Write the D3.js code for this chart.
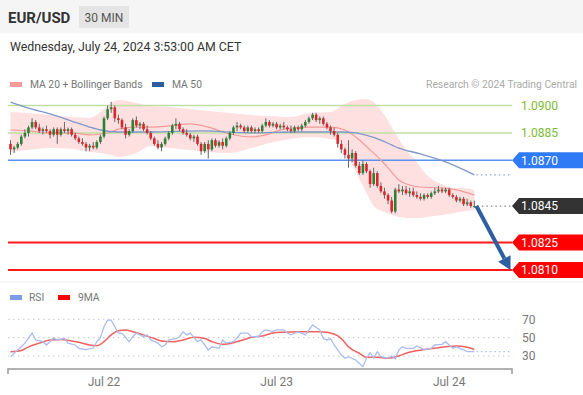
<!DOCTYPE html>
<html><head><meta charset="utf-8">
<script src="https://cdn.jsdelivr.net/npm/d3@7"></script>
<style>
body{margin:0;background:#fff;}
svg{display:block;font-family:Roboto,"Liberation Sans",Arial,sans-serif;}
</style>
</head><body>
<svg id="c" width="583" height="395"></svg>
<script>
// ---------- DATA ----------
const symbol = "EUR/USD";
const timeframe = "30 MIN";
const dateText = "Wednesday, July 24, 2024 3:53:00 AM CET";
const copyright = "Research \u00a9 2024 Trading Central";

const opens = [
1.0879,1.0876,1.0877,1.0879,1.0883,1.0885,1.0888,1.0891,1.0888,1.0886,
1.0887,1.0886,1.0884,1.0887,1.0884,1.0887,1.0886,1.0887,1.0884,1.0882,
1.0880,1.0879,1.0877,1.0878,1.0877,1.0880,1.0883,1.0893,1.0898,1.0899,
1.0893,1.0892,1.0888,1.0884,1.0886,1.0892,1.0889,1.0890,1.0887,1.0885,
1.0882,1.0879,1.0877,1.0879,1.0882,1.0885,1.0889,1.0890,1.0887,1.0885,
1.0884,1.0882,1.0883,1.0879,1.0875,1.0879,1.0876,1.0881,1.0878,1.0880,
1.0878,1.0882,1.0885,1.0888,1.0889,1.0888,1.0886,1.0888,1.0886,1.0887,
1.0886,1.0889,1.0891,1.0889,1.0890,1.0888,1.0889,1.0888,1.0887,1.0886,
1.0888,1.0887,1.0889,1.0891,1.0893,1.0895,1.0892,1.0893,1.0890,1.0888,
1.0886,1.0884,1.0879,1.0876,1.0873,1.0871,1.0874,1.0867,1.0863,1.0868,
1.0864,1.0857,1.0863,1.0856,1.0853,1.0851,1.0848,1.0842,1.0854,1.0853,
1.0854,1.0852,1.0853,1.0851,1.0850,1.0849,1.0851,1.0850,1.0852,1.0853,
1.0854,1.0853,1.0854,1.0851,1.0850,1.0848,1.0849,1.0846,1.0847,1.0845];
const highs = [
1.0881,1.0878,1.0880,1.0884,1.0887,1.0889,1.0893,1.0892,1.0890,1.0888,
1.0889,1.0887,1.0888,1.0888,1.0888,1.0891,1.0888,1.0888,1.0885,1.0883,
1.0882,1.0880,1.0879,1.0880,1.0881,1.0884,1.0894,1.0900,1.0902,1.0900,
1.0895,1.0893,1.0890,1.0887,1.0893,1.0894,1.0891,1.0891,1.0889,1.0886,
1.0883,1.0881,1.0880,1.0883,1.0886,1.0890,1.0893,1.0891,1.0888,1.0887,
1.0885,1.0884,1.0884,1.0880,1.0880,1.0881,1.0882,1.0882,1.0881,1.0882,
1.0883,1.0886,1.0889,1.0891,1.0890,1.0889,1.0889,1.0889,1.0888,1.0888,
1.0890,1.0893,1.0892,1.0891,1.0891,1.0890,1.0891,1.0889,1.0889,1.0889,
1.0889,1.0890,1.0892,1.0894,1.0896,1.0896,1.0894,1.0894,1.0891,1.0889,
1.0888,1.0885,1.0881,1.0877,1.0881,1.0876,1.0875,1.0869,1.0870,1.0869,
1.0865,1.0866,1.0864,1.0858,1.0855,1.0852,1.0850,1.0855,1.0857,1.0856,
1.0856,1.0855,1.0855,1.0853,1.0852,1.0852,1.0852,1.0853,1.0855,1.0856,
1.0855,1.0855,1.0855,1.0852,1.0851,1.0850,1.0850,1.0849,1.0848,1.0848];
const lows = [
1.0873,1.0874,1.0876,1.0878,1.0882,1.0883,1.0887,1.0887,1.0885,1.0884,
1.0885,1.0882,1.0883,1.0879,1.0883,1.0885,1.0884,1.0883,1.0881,1.0879,
1.0878,1.0875,1.0875,1.0876,1.0876,1.0879,1.0882,1.0892,1.0896,1.0891,
1.0890,1.0887,1.0882,1.0883,1.0885,1.0888,1.0887,1.0886,1.0884,1.0881,
1.0878,1.0876,1.0875,1.0878,1.0881,1.0884,1.0887,1.0886,1.0884,1.0883,
1.0881,1.0880,1.0878,1.0873,1.0874,1.0871,1.0875,1.0877,1.0877,1.0876,
1.0877,1.0881,1.0884,1.0886,1.0887,1.0885,1.0885,1.0885,1.0885,1.0885,
1.0885,1.0888,1.0888,1.0888,1.0887,1.0887,1.0887,1.0886,1.0885,1.0885,
1.0886,1.0886,1.0888,1.0890,1.0892,1.0891,1.0890,1.0889,1.0887,1.0884,
1.0883,1.0877,1.0874,1.0871,1.0866,1.0869,1.0866,1.0862,1.0862,1.0863,
1.0855,1.0856,1.0855,1.0852,1.0849,1.0846,1.0841,1.0841,1.0852,1.0851,
1.0851,1.0850,1.0850,1.0849,1.0848,1.0848,1.0849,1.0849,1.0851,1.0852,
1.0852,1.0852,1.0850,1.0849,1.0847,1.0847,1.0845,1.0845,1.0844,1.0844];
const closes = [
1.0876,1.0877,1.0879,1.0883,1.0885,1.0888,1.0891,1.0888,1.0886,1.0887,
1.0886,1.0884,1.0887,1.0884,1.0887,1.0886,1.0887,1.0884,1.0882,1.0880,
1.0879,1.0877,1.0878,1.0877,1.0880,1.0883,1.0893,1.0898,1.0899,1.0893,
1.0892,1.0888,1.0884,1.0886,1.0892,1.0889,1.0890,1.0887,1.0885,1.0882,
1.0879,1.0877,1.0879,1.0882,1.0885,1.0889,1.0890,1.0887,1.0885,1.0884,
1.0882,1.0883,1.0879,1.0875,1.0879,1.0876,1.0881,1.0878,1.0880,1.0878,
1.0882,1.0885,1.0888,1.0889,1.0888,1.0886,1.0888,1.0886,1.0887,1.0886,
1.0889,1.0891,1.0889,1.0890,1.0888,1.0889,1.0888,1.0887,1.0886,1.0888,
1.0887,1.0889,1.0891,1.0893,1.0895,1.0892,1.0893,1.0890,1.0888,1.0886,
1.0884,1.0879,1.0876,1.0873,1.0871,1.0874,1.0867,1.0863,1.0868,1.0864,
1.0857,1.0863,1.0856,1.0853,1.0851,1.0848,1.0842,1.0854,1.0853,1.0854,
1.0852,1.0853,1.0851,1.0850,1.0849,1.0851,1.0850,1.0852,1.0853,1.0854,
1.0853,1.0854,1.0851,1.0850,1.0848,1.0849,1.0846,1.0847,1.0845,1.0845];

// Indicators: [candle index, value]
const bbUpper = [[0,1.08964],[5,1.08959],[11,1.08948],[17,1.08937],[22,1.08932],[25,1.08964],[28,1.09014],[30,1.09030],[35,1.09014],[39,1.08997],[44,1.08992],[50,1.08981],[55,1.08970],[61,1.08959],[67,1.08948],[72,1.08943],[78,1.08937],[83,1.08959],[89,1.08964],[93,1.09008],[96,1.09030],[99,1.09036],[101,1.09019],[104,1.08948],[107,1.08850],[110,1.08757],[113,1.08691],[115,1.08636],[118,1.08587],[121,1.08560],[124,1.08549],[126,1.08549],[129,1.08538]];
const bbLower = [[0,1.08746],[5,1.08757],[11,1.08767],[17,1.08762],[22,1.08746],[25,1.08740],[28,1.08729],[30,1.08718],[35,1.08740],[39,1.08778],[44,1.08767],[50,1.08757],[55,1.08746],[61,1.08740],[67,1.08767],[72,1.08795],[78,1.08817],[83,1.08828],[89,1.08817],[92,1.08800],[93,1.08757],[96,1.08636],[99,1.08521],[101,1.08450],[104,1.08417],[107,1.08396],[110,1.08385],[114,1.08385],[120,1.08401],[125,1.08417],[129,1.08428]];
const ma20 = [[0,1.08866],[5,1.08861],[11,1.08850],[17,1.08850],[22,1.08839],[25,1.08844],[28,1.08855],[30,1.08871],[35,1.08882],[39,1.08882],[44,1.08888],[50,1.08899],[55,1.08882],[61,1.08844],[67,1.08828],[71,1.08839],[76,1.08871],[83,1.08882],[89,1.08882],[93,1.08866],[96,1.08828],[100,1.08757],[103,1.08702],[106,1.08636],[108,1.08592],[111,1.08565],[114,1.08554],[120,1.08549],[124,1.08538],[129,1.08510]];
const ma50 = [[0,1.09019],[5,1.08986],[11,1.08954],[17,1.08915],[22,1.08882],[25,1.08866],[30,1.08855],[39,1.08855],[53,1.08861],[67,1.08850],[80,1.08855],[92,1.08855],[96,1.08850],[103,1.08811],[108,1.08767],[114,1.08735],[121,1.08691],[129,1.08620]];
const rsi = [[0,29],[1,33],[3,40],[4,44],[6,55],[7,47.5],[9,45.6],[10,42],[12,49.7],[13,47.5],[15,49],[16,44],[18,42],[19,38.4],[21,37],[23,38.7],[24,45.6],[25,49.7],[26,62],[27,69],[28,69],[29,62],[30,55],[31,55],[33,45.6],[34,51],[35,55],[37,51],[38,53],[39,47.5],[41,44],[42,40],[43,42],[44,47.5],[46,49],[47,51],[48,56.5],[49,53],[50,55],[52,45.6],[53,47.5],[55,36.6],[56,40],[58,38.4],[59,47.5],[60,44],[62,45.6],[63,49.7],[64,55],[66,55],[67,51],[69,51],[70,56.5],[71,58.4],[73,56.5],[74,58.4],[76,58.4],[77,55],[78,53],[80,56.5],[82,53],[84,64],[86,58.4],[87,49],[88,47.5],[89,49],[90,42],[92,31],[93,27.5],[94,29.3],[96,25.7],[98,18.4],[99,27.5],[100,33.7],[101,27.5],[102,34.7],[103,29.3],[105,27.5],[106,30],[107,26.8],[108,36.6],[109,40],[110,38.4],[112,38.4],[113,41],[115,37],[117,38.4],[118,42],[120,42.7],[121,45.6],[122,42],[123,38.4],[124,40],[126,36.6],[127,34.7],[129,34.7]];
const rsiMA9 = [[0,34.7],[3,36],[5,40],[8,44],[11,47.5],[14,48],[17,46.4],[19,45],[22,42],[24,41.3],[26,45.6],[28,53],[30,57.6],[32,58.4],[34,56.5],[37,53],[40,49],[42,46.4],[45,45.6],[48,47.5],[51,50.4],[54,49],[56,45.6],[59,42.7],[62,44.5],[65,48],[67,50.4],[70,51.8],[73,55],[76,56],[80,56.5],[86,56.5],[90,54],[92,49],[94,40],[97,33],[99,28.7],[102,28.7],[105,27.5],[108,30],[110,33],[113,35.8],[116,37.7],[119,39],[121,40],[124,41],[127,39.5],[129,37]];

const greenLevels = [1.0900, 1.0885];
const blueLevels = [1.0870];
const redLevels = [1.0825, 1.0810];
const lastPrice = 1.0845;
const targetPrice = 1.0810;
const rsiTicks = [70, 50, 30];
const dayTickIndex = [26, 74, 122];
const dayTickLabels = ["Jul 22", "Jul 23", "Jul 24"];

// ---------- SCALES ----------
const svg = d3.select("#c");
const W = 583;
const x = d3.scaleLinear().domain([26, 122]).range([104, 449.2]);
const y = d3.scaleLinear().domain([1.0810, 1.0900]).range([270, 105.5]);
const yr = d3.scaleLinear().domain([30, 70]).range([356, 319.3]);
const plotL = 8, plotR = 512;

// ---------- HEADER ----------
svg.append("rect").attr("x",0).attr("y",0).attr("width",W).attr("height",33).attr("fill","#f5f5f5");
svg.append("text").attr("x",8).attr("y",23).attr("font-size",15).attr("font-weight","bold").attr("fill","#333").text(symbol);
svg.append("rect").attr("x",79).attr("y",6).attr("width",50).attr("height",22).attr("fill","#e4e4e4");
svg.append("text").attr("x",104).attr("y",22).attr("text-anchor","middle").attr("font-size",12).attr("fill","#555").text(timeframe);
svg.append("text").attr("x",10).attr("y",51).attr("font-size",12.3).attr("fill","#333").text(dateText);

// legend
svg.append("rect").attr("x",10).attr("y",82).attr("width",12).attr("height",5).attr("fill","#ff9a9a");
svg.append("text").attr("x",30).attr("y",88).attr("font-size",10.3).attr("fill","#777").text("MA 20 + Bollinger Bands");
svg.append("rect").attr("x",152).attr("y",82).attr("width",12).attr("height",5).attr("fill","#2f5c9e");
svg.append("text").attr("x",172).attr("y",88).attr("font-size",10.3).attr("fill","#777").text("MA 50");
svg.append("text").attr("x",577).attr("y",88).attr("text-anchor","end").attr("font-size",10.3).attr("fill","#aaa").text(copyright);

// ---------- PRICE PANEL ----------
const band = d3.area().x(d=>x(d[0])).y0(d=>y(d[2])).y1(d=>y(d[1])).curve(d3.curveMonotoneX);
const idxs = Array.from(new Set(bbUpper.map(d=>d[0]).concat(bbLower.map(d=>d[0])))).sort((a,b)=>a-b);
const upI = d3.scaleLinear().domain(bbUpper.map(d=>d[0])).range(bbUpper.map(d=>d[1]));
const loI = d3.scaleLinear().domain(bbLower.map(d=>d[0])).range(bbLower.map(d=>d[1]));
svg.append("path").datum(idxs.map(i=>[i, upI(i), loI(i)])).attr("d", band)
  .attr("fill","#ffd6d6").attr("opacity",0.75);

// level lines
greenLevels.forEach(v=>{
  svg.append("line").attr("x1",plotL).attr("x2",plotR).attr("y1",y(v)).attr("y2",y(v)).attr("stroke","#bfe0a4").attr("stroke-width",1.5);
  svg.append("text").attr("x",521).attr("y",y(v)).attr("dy","0.36em").attr("font-size",12).attr("fill","#7cbb2f").text(v.toFixed(4));
});
blueLevels.forEach(v=>{
  svg.append("line").attr("x1",plotL).attr("x2",plotR).attr("y1",y(v)).attr("y2",y(v)).attr("stroke","#5b8ff0").attr("stroke-width",1.5);
});
redLevels.forEach(v=>{
  svg.append("line").attr("x1",plotL).attr("x2",plotR).attr("y1",y(v)).attr("y2",y(v)).attr("stroke","#ff1a1a").attr("stroke-width",2);
});

const line = d3.line().x(d=>x(d[0])).y(d=>y(d[1])).curve(d3.curveMonotoneX);
svg.append("path").datum(ma20).attr("d",line).attr("fill","none").attr("stroke","#f59a9a").attr("stroke-width",1.2);
svg.append("path").datum(ma50).attr("d",line).attr("fill","none").attr("stroke","#7f97c9").attr("stroke-width",1.3);
const lastMa50 = ma50[ma50.length-1];
svg.append("line").attr("x1",x(lastMa50[0])+2).attr("x2",plotR).attr("y1",y(lastMa50[1])).attr("y2",y(lastMa50[1]))
  .attr("stroke","#8fa7dd").attr("stroke-width",1.2).attr("stroke-dasharray","1.5,3");

// candles
const n = closes.length;
const cw = 2.6;
const cg = svg.append("g");
d3.range(n).forEach(i=>{
  const up = closes[i] >= opens[i];
  const col = up ? "#2a8236" : "#d8262b";
  cg.append("line").attr("x1",x(i)).attr("x2",x(i)).attr("y1",y(highs[i])).attr("y2",y(lows[i]))
    .attr("stroke","#666").attr("stroke-width",1);
  const top = y(Math.max(opens[i],closes[i])), bot = y(Math.min(opens[i],closes[i]));
  cg.append("rect").attr("x",x(i)-cw/2).attr("y",top).attr("width",cw).attr("height",Math.max(1,bot-top)).attr("fill",col);
});

// last price dotted line
svg.append("line").attr("x1",x(n-1)+3).attr("x2",plotR).attr("y1",y(lastPrice)).attr("y2",y(lastPrice))
  .attr("stroke","#888").attr("stroke-width",1.2).attr("stroke-dasharray","1.5,3");

// label boxes
function tag(v, color){
  const yc = y(v), h = 8, x0 = 512;
  svg.append("path").attr("d",`M${x0},${yc} L${x0+7},${yc-h} L${W},${yc-h} L${W},${yc+h} L${x0+7},${yc+h} Z`).attr("fill",color);
  svg.append("text").attr("x",521).attr("y",yc).attr("dy","0.36em").attr("font-size",12).attr("fill","#fff").text(v.toFixed(4));
}
blueLevels.forEach(v=>tag(v,"#2f7bf5"));
tag(lastPrice,"#333333");
redLevels.forEach(v=>tag(v,"#ff0000"));

// arrow
const ax0 = x(n-1)+2, ay0 = y(lastPrice), ax1 = 510.5, ay1 = y(targetPrice);
const ang = Math.atan2(ay1-ay0, ax1-ax0);
const headL = 13, headW = 7;
const bx = ax1 - headL*Math.cos(ang), by = ay1 - headL*Math.sin(ang);
svg.append("line").attr("x1",ax0).attr("y1",ay0).attr("x2",bx).attr("y2",by).attr("stroke","#2e5fa3").attr("stroke-width",4);
svg.append("path").attr("d",`M${ax1},${ay1} L${bx+headW*Math.sin(ang)},${by-headW*Math.cos(ang)} L${bx-headW*Math.sin(ang)},${by+headW*Math.cos(ang)} Z`).attr("fill","#2e5fa3");

// separator
svg.append("line").attr("x1",0).attr("x2",W).attr("y1",282).attr("y2",282).attr("stroke","#f0f0f0").attr("stroke-width",1);

// ---------- RSI PANEL ----------
svg.append("rect").attr("x",10).attr("y",295).attr("width",12).attr("height",5).attr("fill","#7d9ce8");
svg.append("text").attr("x",29).attr("y",301).attr("font-size",10.3).attr("fill","#777").text("RSI");
svg.append("rect").attr("x",58).attr("y",295).attr("width",12).attr("height",5).attr("fill","#ff0000");
svg.append("text").attr("x",78).attr("y",301).attr("font-size",10.3).attr("fill","#777").text("9MA");

rsiTicks.forEach(v=>{
  svg.append("line").attr("x1",plotL).attr("x2",plotR).attr("y1",yr(v)).attr("y2",yr(v))
    .attr("stroke","#c8c8c8").attr("stroke-width",1).attr("stroke-dasharray","1.5,3.5");
  svg.append("text").attr("x",522).attr("y",yr(v)).attr("dy","0.36em").attr("font-size",12).attr("fill","#777").text(v);
});
const rline = d3.line().x(d=>x(d[0])).y(d=>yr(d[1])).curve(d3.curveMonotoneX);
svg.append("path").datum(rsiMA9).attr("d",rline).attr("fill","none").attr("stroke","#f26060").attr("stroke-width",1.5);
svg.append("path").datum(rsi).attr("d",d3.line().x(d=>x(d[0])).y(d=>yr(d[1]))).attr("fill","none").attr("stroke","#a9bdf0").attr("stroke-width",1.3);
const lastR = rsi[rsi.length-1];
svg.append("line").attr("x1",x(lastR[0])+2).attr("x2",plotR).attr("y1",yr(lastR[1])).attr("y2",yr(lastR[1]))
  .attr("stroke","#a9bdf0").attr("stroke-width",1.3).attr("stroke-dasharray","1.5,3");

// time axis
const axY = 369;
svg.append("path").attr("d",`M${plotL},${axY+5} V${axY} H${plotR} V${axY+5}`).attr("fill","none").attr("stroke","#999").attr("stroke-width",1.5);
dayTickIndex.forEach((t,k)=>{
  svg.append("text").attr("x",x(t)).attr("y",386).attr("text-anchor","middle").attr("font-size",12).attr("fill","#777").text(dayTickLabels[k]);
});
</script>
</body></html>
